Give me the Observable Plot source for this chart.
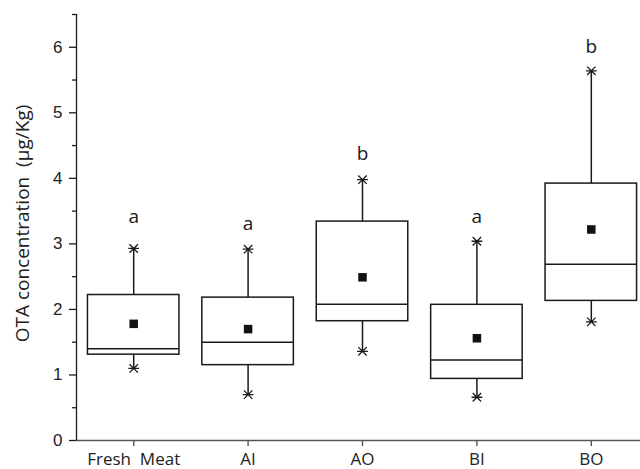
<!DOCTYPE html>
<html>
<head>
<meta charset="utf-8">
<script src="https://cdn.jsdelivr.net/npm/d3@7"></script>
<script src="https://cdn.jsdelivr.net/npm/@observablehq/plot@0.6"></script>
<style>
  html, body { margin: 0; padding: 0; background: white; }
</style>
</head>
<body>
<div id="chart"></div>
<script>
const categories = ["Fresh\u00a0 Meat", "AI", "AO", "BI", "BO"];
const mins    = [1.10, 0.70, 1.36, 0.66, 1.81];
const q1s     = [1.31, 1.15, 1.82, 0.94, 2.13];
const medians = [1.40, 1.50, 2.08, 1.23, 2.69];
const q3s     = [2.22, 2.18, 3.34, 2.07, 3.92];
const maxs    = [2.93, 2.92, 3.98, 3.04, 5.64];
const means   = [1.78, 1.70, 2.49, 1.56, 3.22];
const letters = ["a", "a", "b", "a", "b"];
const letterY = [3.41, 3.31, 4.37, 3.41, 6.00];
const yMajor = [0, 1, 2, 3, 4, 5, 6];
const yMinor = [0.5, 1.5, 2.5, 3.5, 4.5, 5.5, 6.5];
const xDomain = [-0.5, 4.43];
const yDomain = [0, 6.5];
const yTitle = "OTA concentration\u00a0 (\u03bcg/Kg)";

const data = categories.map((c, i) => ({
  i, cat: c, min: mins[i], q1: q1s[i], median: medians[i], q3: q3s[i],
  max: maxs[i], mean: means[i], letter: letters[i], ly: letterY[i]
}));
const ends = data.flatMap(d => [{i: d.i, v: d.min}, {i: d.i, v: d.max}]);

const asterisk = {
  draw(context, size) {
    const r = Math.sqrt(size / Math.PI);
    const a = r * 0.78;
    context.moveTo(-r, 0); context.lineTo(r, 0);
    context.moveTo(-a, -a); context.lineTo(a, a);
    context.moveTo(-a, a); context.lineTo(a, -a);
  }
};

const ink = "#1a1a1a";
const half = 0.4;

const chart = Plot.plot({
  width: 640,
  height: 469,
  marginTop: 14,
  marginBottom: 29,
  marginLeft: 76,
  marginRight: 0,
  style: {background: "white"},
  x: {type: "linear", domain: xDomain},
  y: {domain: yDomain},
  marks: [
    // whiskers
    Plot.ruleX(data, {x: "i", y1: "q3", y2: "max", stroke: ink, strokeWidth: 1.5}),
    Plot.ruleX(data, {x: "i", y1: "min", y2: "q1", stroke: ink, strokeWidth: 1.5}),
    // boxes
    Plot.rect(data, {x1: d => d.i - half, x2: d => d.i + half, y1: "q1", y2: "q3",
      fill: "white", stroke: ink, strokeWidth: 1.5}),
    // medians
    Plot.ruleY(data, {x1: d => d.i - half, x2: d => d.i + half, y: "median", stroke: ink, strokeWidth: 1.5}),
    // min/max asterisks
    Plot.dot(ends, {x: "i", y: "v", symbol: asterisk, r: 5.4, stroke: ink, strokeWidth: 1.3, fill: "none"}),
    // means
    Plot.dot(data, {x: "i", y: "mean", symbol: "square", r: 4.8, fill: "#111", stroke: "none"}),
    // significance letters
    Plot.text(data, {x: "i", y: "ly", text: "letter", fontSize: 19,
      fontFamily: "Open Sans", fill: ink}),
    // axes lines
    Plot.ruleY([0], {stroke: "#555", strokeWidth: 1.6}),
    Plot.ruleX([xDomain[0]], {y1: yDomain[0], y2: yDomain[1], stroke: ink, strokeWidth: 1.3}),
    // y axis ticks
    Plot.axisY({ticks: yMajor, tickFormat: d3.format("d"), tickSize: 7, tickPadding: 7, fontSize: 17,
      fontFamily: "Liberation Sans, Arial, sans-serif", label: null,
      stroke: ink, strokeWidth: 1.3, fill: "#222"}),
    Plot.axisY({ticks: yMinor, tickSize: 4, tickFormat: () => "", label: null,
      stroke: ink, strokeWidth: 1.3}),
    // x axis ticks
    Plot.axisX({ticks: data.map(d => d.i), tickFormat: i => categories[i],
      tickSize: 6, tickPadding: 6, fontSize: 17, fontFamily: "Open Sans",
      label: null, stroke: "#555", strokeWidth: 1.4, fill: "#222"}),
    // y title
    Plot.text([yTitle], {frameAnchor: "left", text: d => d, rotate: -90, dx: -54, dy: -4,
      textAnchor: "middle", lineAnchor: "middle",
      fontSize: 19, fontFamily: "Open Sans", fill: "#222"})
  ]
});
document.getElementById("chart").appendChild(chart);
</script>
</body>
</html>
